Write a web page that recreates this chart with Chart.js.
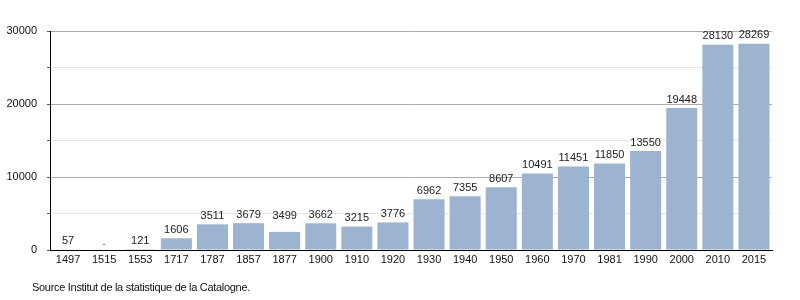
<!DOCTYPE html>
<html>
<head>
<meta charset="utf-8">
<script src="https://cdn.jsdelivr.net/npm/chart.js@4"></script>
<style>
  body { margin: 0; background: #fff; }
  #wrap { position: relative; width: 800px; height: 300px; }
  #source { position: absolute; left: 32px; top: 281px; font: 11px "Liberation Sans", Arial, sans-serif; letter-spacing: -0.3px; color: #111; }
</style>
</head>
<body>
<div id="wrap">
  <canvas id="myChart" width="800" height="300"></canvas>
  <div id="source">Source Institut de la statistique de la Catalogne.</div>
</div>
<script>
const years = ['1497', '1515', '1553', '1717', '1787', '1857', '1877', '1900', '1910', '1920',
    '1930', '1940', '1950', '1960', '1970', '1981', '1990', '2000', '2010', '2015'];
// bar heights as drawn
const population = [57, null, 121, 1606, 3511, 3679, 2480, 3662, 3215, 3776,
    6962, 7355, 8607, 10491, 11451, 11850, 13550, 19448, 28130, 28269];
// text printed above each bar
const valueLabels = ['57', '.', '121', '1606', '3511', '3679', '3499', '3662', '3215', '3776',
    '6962', '7355', '8607', '10491', '11451', '11850', '13550', '19448', '28130', '28269'];

const font = '"Liberation Sans", Arial, sans-serif';

const barLabels = {
    id: 'barLabels',
    afterDatasetsDraw(chart) {
        const ctx = chart.ctx;
        const meta = chart.getDatasetMeta(0);
        const y = chart.scales.y;
        ctx.save();
        ctx.font = '11px ' + font;
        ctx.fillStyle = '#222';
        ctx.textAlign = 'center';
        ctx.textBaseline = 'bottom';
        meta.data.forEach(function (bar, i) {
            let v = parseFloat(valueLabels[i]);
            if (isNaN(v)) v = 0;
            ctx.fillText(valueLabels[i], bar.x, y.getPixelForValue(v) - 3);
        });
        ctx.restore();
    }
};

const ctx = document.getElementById('myChart').getContext('2d');
new Chart(ctx, {
    type: 'bar',
    data: {
        labels: years,
        datasets: [{
            data: population,
            backgroundColor: '#9cb4cf',
            barPercentage: 0.86,
            categoryPercentage: 1
        }]
    },
    options: {
        responsive: false,
        animation: false,
        layout: { padding: { top: 31, right: 28, left: 0, bottom: 0 } },
        plugins: {
            legend: { display: false },
            tooltip: { enabled: false }
        },
        scales: {
            x: {
                grid: { display: false },
                border: { color: '#000', width: 1 },
                ticks: { color: '#111', font: { family: font, size: 11 }, maxRotation: 0, autoSkip: false, padding: -5 },
                afterFit: function (scale) { scale.height = 50; }
            },
            y: {
                min: 0,
                max: 30000,
                border: { color: '#000', width: 1 },
                grid: {
                    color: function (c) { return c.tick && c.tick.value % 10000 === 0 ? '#aaa' : '#e4e4e4'; },
                    tickLength: 3,
                    tickColor: '#555'
                },
                ticks: {
                    stepSize: 5000,
                    color: '#111',
                    font: { family: font, size: 11 },
                    padding: 10,
                    callback: function (v) { return v % 10000 === 0 ? v : ''; }
                },
                afterFit: function (scale) { scale.width = 50; }
            }
        }
    },
    plugins: [barLabels]
});
</script>
</body>
</html>
